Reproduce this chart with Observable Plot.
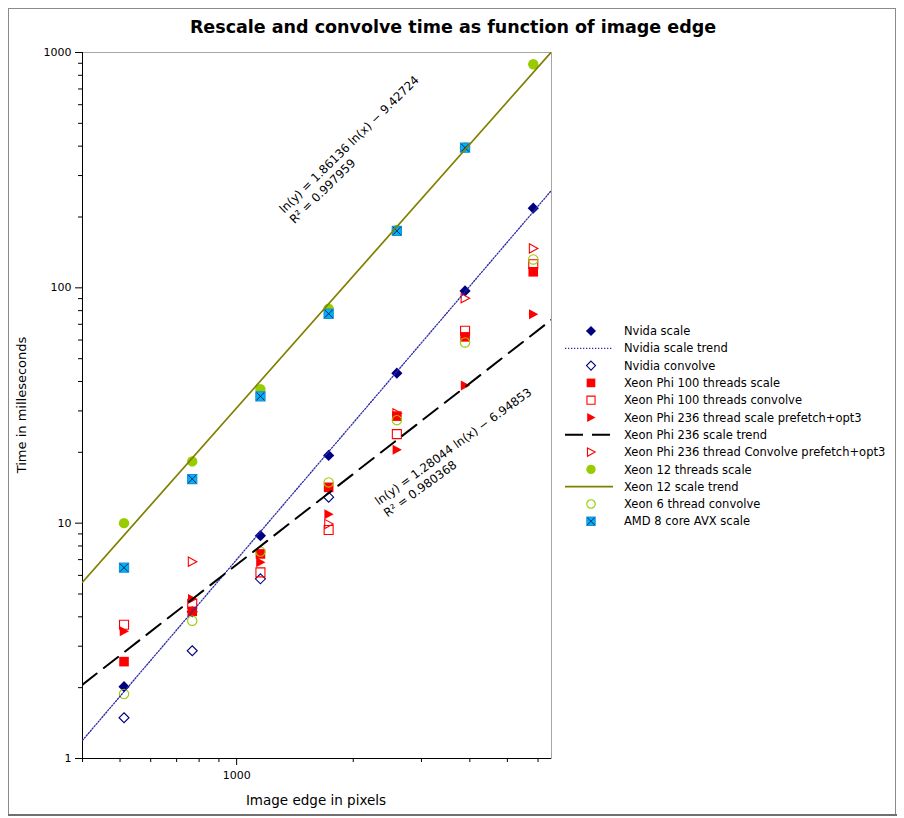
<!DOCTYPE html>
<html><head><meta charset="utf-8">
<script src="https://cdn.jsdelivr.net/npm/d3@7"></script>
<script src="https://cdn.jsdelivr.net/npm/@observablehq/plot@0.6"></script>
<style>body{margin:0;background:#fff}#chart{width:904px;height:818px}</style>
</head><body><div id="chart"></div>
<script>
// ---- data ----
const edges = [512, 768, 1152, 1728, 2592, 3888, 5832];
const nvidiaScale    = [2.02, 4.2, 8.85, 19.4, 43.4, 97, 218];
const nvidiaConvolve = [1.49, 2.87, 5.8, 12.9, null, null, null];
const phi100Scale    = [2.58, 4.22, 7.4, 14.2, 28.5, 61.9, 117];
const phi100Convolve = [3.7, 4.54, 6.18, 9.36, 23.9, 65.7, 126];
const phi236Scale    = [3.47, 4.76, 6.82, 10.9, 20.5, 38.5, 77.3];
const phi236Convolve = [null, 6.86, null, 9.92, 29.3, 90.4, 147];
const xeon12Scale    = [10, 18.3, 37.1, 81.5, 176, 395, 891];
const xeon6Convolve  = [1.88, 3.85, 7.57, 14.9, 27.4, 58.6, 132];
const amdScale       = [6.47, 15.4, 34.6, 77.6, 174.6, 394, null];
// trend equations shown on the chart: ln(y) = a ln(x) + b
const xeon12Trend = {a: 1.86136, b: -9.42724, r2: 0.997959};
const phi236Trend = {a: 1.28044, b: -6.94853, r2: 0.980368};
// axis
const xDomain = [400, 6500];
const yDomain = [1, 1000];
const xMajorTicks = [1000];
const xMinorTicks = [400, 500, 600, 700, 800, 900, 2000, 3000, 4000, 5000, 6000];
const yMajorTicks = [1, 10, 100, 1000];
const yMinorTicks = [2,3,4,5,6,7,8,9,20,30,40,50,60,70,80,90,200,300,400,500,600,700,800,900];
const titleText = "Rescale and convolve time as function of image edge";
const xLabel = "Image edge in pixels";
const yLabel = "Time in milleseconds";

// ---- symbols ----
const SYM = {
  diamond: {draw(c, s){const r=Math.sqrt(s/Math.PI); c.moveTo(0,-r); c.lineTo(r,0); c.lineTo(0,r); c.lineTo(-r,0); c.closePath();}},
  square: {draw(c, s){const r=Math.sqrt(s/Math.PI); c.moveTo(-r,-r); c.lineTo(r,-r); c.lineTo(r,r); c.lineTo(-r,r); c.closePath();}},
  triangle: {draw(c, s){const r=Math.sqrt(s/Math.PI); c.moveTo(-r*0.85,-r); c.lineTo(r,0); c.lineTo(-r*0.85,r); c.closePath();}},
  circle: {draw(c, s){const r=Math.sqrt(s/Math.PI); c.moveTo(r,0); c.arc(0,0,r,0,2*Math.PI);}},
  cross: {draw(c, s){const r=Math.sqrt(s/Math.PI)*0.85; c.moveTo(-r,-r); c.lineTo(r,r); c.moveTo(r,-r); c.lineTo(-r,r);}}
};
const NAVY="#000080", RED="#ff0000", GREEN="#99cc00", OLIVE="#808000", CYAN="#00b4f0";

// nvidia trend: least squares on ln-ln
function fitLogLog(xs, ys){
  const p = xs.map((x,i)=>[Math.log(x), ys[i]]).filter(d=>d[1]!=null).map(d=>[d[0], Math.log(d[1])]);
  const mx=d3.mean(p,d=>d[0]), my=d3.mean(p,d=>d[1]);
  const a=d3.sum(p,d=>(d[0]-mx)*(d[1]-my))/d3.sum(p,d=>(d[0]-mx)**2);
  return {a, b: my-a*mx};
}
const nvidiaTrend = fitLogLog(edges, nvidiaScale);
const trendLine = t => xDomain.map(x => ({x, y: Math.exp(t.a*Math.log(x)+t.b)}));

const series = [
  {name:"Nvida scale", values:nvidiaScale, sym:"diamond", fill:NAVY, stroke:"none", r:5.6},
  {name:"Nvidia convolve", values:nvidiaConvolve, sym:"diamond", fill:"none", stroke:NAVY, r:5},
  {name:"Xeon Phi 100 threads scale", values:phi100Scale, sym:"square", fill:RED, stroke:"none", r:4.8},
  {name:"Xeon Phi 100 threads convolve", values:phi100Convolve, sym:"square", fill:"none", stroke:RED, r:4.5},
  {name:"Xeon Phi 236 thread scale prefetch+opt3", values:phi236Scale, sym:"triangle", fill:RED, stroke:"none", r:5},
  {name:"Xeon Phi 236 thread Convolve prefetch+opt3", values:phi236Convolve, sym:"triangle", fill:"none", stroke:RED, r:4.6},
  {name:"Xeon 12 threads scale", values:xeon12Scale, sym:"circle", fill:GREEN, stroke:"none", r:5.2},
  {name:"Xeon 6 thread convolve", values:xeon6Convolve, sym:"circle", fill:"none", stroke:GREEN, r:4.7},
  {name:"AMD 8 core AVX scale", values:amdScale, sym:"square", fill:CYAN, stroke:"#1a8fd8", r:4.6, cross:true}
];
const rows = s => edges.map((x,i)=>({x, y:s.values[i]})).filter(d=>d.y!=null);

const dotMarks = [];
for (const s of series) {
  dotMarks.push(Plot.dot(rows(s), {x:"x", y:"y", symbol: SYM[s.sym], r:s.r, fill:s.fill, stroke:s.stroke, strokeWidth:1.1}));
  if (s.cross) dotMarks.push(Plot.dot(rows(s), {x:"x", y:"y", symbol: SYM.cross, r:s.r, stroke:"#00207a", strokeWidth:1, fill:"none"}));
}

const fmt = d => String(d);
const FONT = "DejaVu Sans, Verdana, sans-serif";
const plot = Plot.plot({
  width: 904, height: 818,
  marginLeft: 82, marginRight: 353, marginTop: 52, marginBottom: 60,
  x: {type:"log", domain:xDomain},
  y: {type:"log", domain:yDomain},
  style: {fontFamily: FONT, fontSize: "11px", color: "#000", background: "#fff", overflow: "visible"},
  marks: [
    Plot.frame({stroke:"#a6a6a6"}),
    Plot.axisX({ticks:xMajorTicks, tickSize:7, tickPadding:6, tickFormat:fmt, label:null, fontSize:11}),
    Plot.axisX({ticks:xMinorTicks, tickSize:4, tickFormat:()=>"", label:null}),
    Plot.axisY({ticks:yMajorTicks, tickSize:7, tickPadding:4, tickFormat:fmt, label:null, fontSize:11}),
    Plot.axisY({ticks:yMinorTicks, tickSize:4, tickFormat:()=>"", label:null}),
    Plot.ruleX([xDomain[0]], {stroke:"#000"}),
    Plot.ruleY([yDomain[0]], {stroke:"#000"}),
    ...dotMarks,
    Plot.line(trendLine(nvidiaTrend), {x:"x", y:"y", stroke:"#2a2aa8", strokeWidth:1.3, strokeDasharray:"1.3,1.7", clip:true}),
    Plot.line(trendLine(phi236Trend), {x:"x", y:"y", stroke:"#000", strokeWidth:2, strokeDasharray:"18,9", clip:true}),
    Plot.line(trendLine(xeon12Trend), {x:"x", y:"y", stroke:OLIVE, strokeWidth:1.7, clip:true}),
    Plot.text([`ln(y) = ${xeon12Trend.a} ln(x) − ${-xeon12Trend.b}\nR² = ${xeon12Trend.r2}`], {x:[1270], y:[222], rotate:-44.5, textAnchor:"start", lineAnchor:"top", fontSize:11.8, lineHeight:1.25, fill:"#000"}),
    Plot.text([`ln(y) = ${phi236Trend.a} ln(x) − ${-phi236Trend.b}\nR² = ${phi236Trend.r2}`], {x:[2245], y:[12.9], rotate:-36, textAnchor:"start", lineAnchor:"top", fontSize:11.8, lineHeight:1.25, fill:"#000"})
  ]
});
document.getElementById("chart").appendChild(plot);

// ---- title, axis labels, legend, border ----
const svg = d3.select(plot);
svg.append("rect").attr("x",8.5).attr("y",8.5).attr("width",887).attr("height",806).attr("fill","none").attr("stroke","#8a8a8a");
svg.append("line").attr("x1",8).attr("x2",897).attr("y1",815).attr("y2",815).attr("stroke","#707070").attr("stroke-width",2);
svg.append("text").attr("x",453).attr("y",33).attr("text-anchor","middle").attr("font-weight","bold").attr("font-size",17.5).attr("font-family",FONT).text(titleText);
svg.append("text").attr("transform","translate(26,405) rotate(-90)").attr("text-anchor","middle").attr("font-size",13).attr("font-family",FONT).text(yLabel);
svg.append("text").attr("x",316).attr("y",805).attr("text-anchor","middle").attr("font-size",13.5).attr("font-family",FONT).text(xLabel);

const legendItems = [
  {label:series[0].name, s:series[0]},
  {label:"Nvidia scale trend", line:{stroke:"#2a2aa8", w:1.3, dash:"1.3,1.7"}},
  {label:series[1].name, s:series[1]},
  {label:series[2].name, s:series[2]},
  {label:series[3].name, s:series[3]},
  {label:series[4].name, s:series[4]},
  {label:"Xeon Phi 236 scale trend", line:{stroke:"#000", w:2, dash:"18,9"}},
  {label:series[5].name, s:series[5]},
  {label:series[6].name, s:series[6]},
  {label:"Xeon 12 scale trend", line:{stroke:OLIVE, w:1.7, dash:null}},
  {label:series[7].name, s:series[7]},
  {label:series[8].name, s:series[8]}
];
const lg = svg.append("g").attr("font-family",FONT).attr("font-size",11.5).attr("text-anchor","start");
legendItems.forEach((it,i)=>{
  const y = 331 + i*17.3;
  if (it.s) {
    const s = it.s, r = s.r*0.9;
    lg.append("path").attr("transform",`translate(591,${y})`).attr("d", d3.symbol(SYM[s.sym], Math.PI*r*r)()).attr("fill",s.fill).attr("stroke",s.stroke).attr("stroke-width",1.1);
    if (s.cross) lg.append("path").attr("transform",`translate(591,${y})`).attr("d", d3.symbol(SYM.cross, Math.PI*r*r)()).attr("fill","none").attr("stroke","#00207a").attr("stroke-width",1);
  } else {
    lg.append("line").attr("x1",565).attr("x2",613).attr("y1",y).attr("y2",y).attr("stroke",it.line.stroke).attr("stroke-width",it.line.w).attr("stroke-dasharray",it.line.dash);
  }
  lg.append("text").attr("x",624).attr("y",y).attr("dy","0.36em").attr("text-anchor","start").text(it.label);
});
</script></body></html>
